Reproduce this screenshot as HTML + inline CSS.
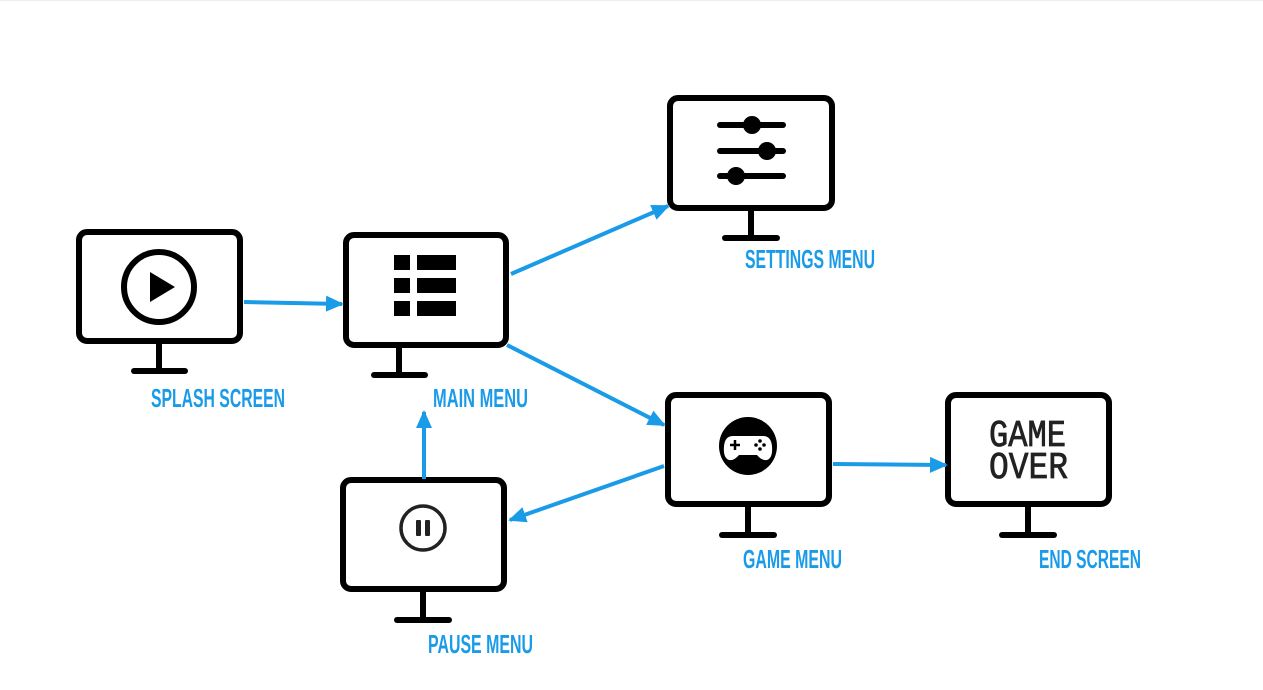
<!DOCTYPE html>
<html><head><meta charset="utf-8"><style>
html,body{margin:0;padding:0;background:#fff;}
svg{display:block;}
.lbl{font-family:"Liberation Sans Narrow","Liberation Sans",sans-serif;font-weight:bold;font-size:26px;fill:#1a9be8;}
</style></head><body>
<svg width="1263" height="690" viewBox="0 0 1263 690" xmlns="http://www.w3.org/2000/svg">
<defs>
<marker id="a" markerWidth="18" markerHeight="18" refX="16" refY="9" orient="auto" markerUnits="userSpaceOnUse">
<path d="M0,1 L18,9 L0,17 Z" fill="#1a9be8"/>
</marker>
</defs>
<rect x="0" y="0" width="1263" height="1" fill="#eee"/>
<g fill="none" stroke="#000" stroke-width="6" stroke-linecap="round">
<rect x="79" y="232" width="161" height="109" rx="8"/>
<line x1="159" y1="342" x2="159" y2="370"/><line x1="134" y1="371" x2="185" y2="371"/>
<rect x="346" y="235" width="160" height="110" rx="8"/>
<line x1="399" y1="346" x2="399" y2="374"/><line x1="374" y1="375" x2="425" y2="375"/>
<rect x="670" y="98" width="162" height="110" rx="8"/>
<line x1="751" y1="209" x2="751" y2="237"/><line x1="725" y1="238" x2="777" y2="238"/>
<rect x="668" y="395" width="161" height="109" rx="8"/>
<line x1="748" y1="505" x2="748" y2="534"/><line x1="722" y1="535" x2="774" y2="535"/>
<rect x="948" y="395" width="161" height="109" rx="8"/>
<line x1="1028" y1="505" x2="1028" y2="534"/><line x1="1002" y1="535" x2="1054" y2="535"/>
<rect x="343" y="480" width="161" height="109" rx="8"/>
<line x1="423" y1="590" x2="423" y2="619"/><line x1="397" y1="620" x2="449" y2="620"/>
</g>
<circle cx="159" cy="287" r="35" fill="none" stroke="#000" stroke-width="6"/>
<path d="M150,272 L175,287 L150,302 Z" fill="#000"/>
<g fill="#000">
<rect x="394" y="255" width="16" height="15"/><rect x="417" y="255" width="39" height="15"/>
<rect x="394" y="278" width="16" height="15"/><rect x="417" y="278" width="39" height="15"/>
<rect x="394" y="301" width="16" height="15"/><rect x="417" y="301" width="39" height="15"/>
</g>
<g stroke="#000" stroke-width="6" stroke-linecap="round">
<line x1="720" y1="125" x2="783" y2="125"/><line x1="720" y1="151" x2="783" y2="151"/><line x1="720" y1="176" x2="783" y2="176"/>
</g>
<g fill="#000"><circle cx="752" cy="125" r="9"/><circle cx="767" cy="151" r="9"/><circle cx="736" cy="176" r="9"/></g>
<circle cx="748" cy="446" r="29" fill="#000"/>
<path d="M733,436 L763,436 Q771,436 772,446 Q773,458 767,460 Q762,461 757,455 L739,455 Q734,461 729,460 Q723,458 724,446 Q725,436 733,436 Z" fill="#fff"/>
<g stroke="#000" stroke-width="2.5"><line x1="730" y1="445" x2="740" y2="445"/><line x1="735" y1="440" x2="735" y2="450"/></g>
<g fill="#000"><circle cx="760" cy="441" r="1.8"/><circle cx="764" cy="445" r="1.8"/><circle cx="760" cy="449" r="1.8"/><circle cx="756" cy="445" r="1.8"/></g>
<text x="989" y="446" font-family="Liberation Mono,monospace" font-size="38" fill="#222" stroke="#222" stroke-width="0.8" textLength="77" lengthAdjust="spacingAndGlyphs">GAME</text>
<text x="989" y="478" font-family="Liberation Mono,monospace" font-size="38" fill="#222" stroke="#222" stroke-width="0.8" textLength="79" lengthAdjust="spacingAndGlyphs">OVER</text>
<circle cx="423" cy="528" r="22" fill="none" stroke="#222" stroke-width="3.5"/>
<rect x="416" y="520" width="5" height="16" rx="1" fill="#222"/><rect x="425" y="520" width="5" height="16" rx="1" fill="#222"/>
<g stroke="#1a9be8" stroke-width="4" fill="none">
<line x1="244" y1="302" x2="342" y2="304" marker-end="url(#a)"/>
<line x1="511" y1="274" x2="668" y2="206" marker-end="url(#a)"/>
<line x1="507" y1="345" x2="664" y2="425" marker-end="url(#a)"/>
<line x1="833" y1="464" x2="946" y2="465" marker-end="url(#a)"/>
<line x1="664" y1="466" x2="510" y2="520" marker-end="url(#a)"/>
<line x1="424" y1="479" x2="424" y2="412" marker-end="url(#a)"/>
</g>
<text class="lbl" x="151" y="407" textLength="134" lengthAdjust="spacingAndGlyphs">SPLASH SCREEN</text>
<text class="lbl" x="433" y="407" textLength="95" lengthAdjust="spacingAndGlyphs">MAIN MENU</text>
<text class="lbl" x="745" y="268" textLength="130" lengthAdjust="spacingAndGlyphs">SETTINGS MENU</text>
<text class="lbl" x="743" y="568" textLength="99" lengthAdjust="spacingAndGlyphs">GAME MENU</text>
<text class="lbl" x="1039" y="568" textLength="102" lengthAdjust="spacingAndGlyphs">END SCREEN</text>
<text class="lbl" x="428" y="653" textLength="105" lengthAdjust="spacingAndGlyphs">PAUSE MENU</text>
</svg>
</body></html>
